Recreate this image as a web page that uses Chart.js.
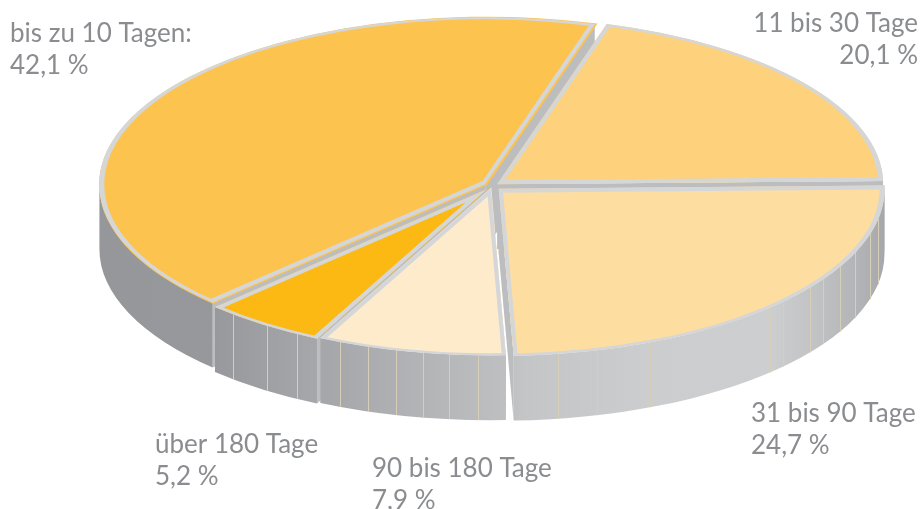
<!DOCTYPE html>
<html>
<head>
<meta charset="utf-8">
<style>
  html, body { margin: 0; padding: 0; background: #fff; overflow: hidden; }
  canvas { display: block; }
</style>
<script src="https://cdn.jsdelivr.net/npm/chart.js@4"></script>
</head>
<body>
<canvas id="chart" width="924" height="509"></canvas>
<script>
// clockwise from the 11 bis 30 slice, same order as the picture
const categories = ["11 bis 30 Tage", "31 bis 90 Tage", "90 bis 180 Tage", "über 180 Tage", "bis zu 10 Tagen:"];
const shares = [20.1, 24.7, 7.9, 5.2, 42.1];
const sliceColours = ["#fed17d", "#fedda0", "#feebcb", "#fdb913", "#fdc34f"];
const sliceOffsets = [11, 16, 6, 8, 9];

// label anchors: x, first baseline, align
const labelSpots = [
    [918, 32, "right"],
    [751, 422, "left"],
    [372, 477, "left"],
    [155, 453, "left"],
    [10, 42, "left"]
];

// x of the thin lines on the rim
const rimSeams = [233, 267, 297, 316, 340, 368, 396, 423, 449, 478, 510, 558, 597, 650, 770, 783, 810, 823, 840, 855, 870, 878];

const stretchX = 2.31;
const radiusY = 167;
const depth = 65;
const edgeColour = "#d5d6d8";
const sideColour = "#bcbdbf";

function sliceGeometry(arc) {
    // same shift the arc element uses when it has an offset
    const off = (arc.options.offset || 0) / 4;
    const mid = (arc.startAngle + arc.endAngle) / 2;
    const d = off * (2 - Math.sin(Math.min(Math.PI, arc.circumference)));
    return {
        x: arc.x + Math.cos(mid) * d * stretchX,
        y: arc.y + Math.sin(mid) * d,
        rx: arc.outerRadius * stretchX,
        ry: arc.outerRadius,
        start: arc.startAngle,
        end: arc.endAngle
    };
}

function rimGradient(ctx) {
    const g = ctx.createLinearGradient(100, 0, 890, 0);
    const stops = [[100, "#96979a"], [210, "#97989b"], [316, "#a6a7aa"], [330, "#a6a7aa"], [510, "#bfc0c2"],
        [525, "#c4c5c7"], [650, "#cccdcf"], [770, "#cdced0"], [820, "#c0c1c3"], [870, "#aeafb2"], [890, "#a3a4a7"]];
    stops.forEach((s) => g.addColorStop((s[0] - 100) / 790, s[1]));
    return g;
}

const piePerspective = {
    id: "piePerspective",
    beforeDatasetsDraw(chart) {
        const ctx = chart.ctx;
        const arcs = chart.getDatasetMeta(0).data;
        const slices = arcs.map(sliceGeometry);

        // cut faces between the slices
        slices.forEach((s) => {
            [s.start, s.end].forEach((a) => {
                const px = s.x + Math.cos(a) * s.rx;
                const py = s.y + Math.sin(a) * s.ry;
                ctx.beginPath();
                ctx.moveTo(s.x, s.y);
                ctx.lineTo(px, py);
                ctx.lineTo(px, py + depth);
                ctx.lineTo(s.x, s.y + depth);
                ctx.closePath();
                ctx.fillStyle = sideColour;
                ctx.fill();
            });
        });

        // outer rim, only the part that faces us
        const grad = rimGradient(ctx);
        slices.forEach((s) => {
            const a = Math.max(s.start, 0);
            const b = Math.min(s.end, Math.PI);
            if (b <= a) return;
            ctx.beginPath();
            ctx.ellipse(s.x, s.y, s.rx, s.ry, 0, a, b);
            ctx.ellipse(s.x, s.y + depth, s.rx, s.ry, 0, b, a, true);
            ctx.closePath();
            ctx.fillStyle = grad;
            ctx.fill();

            ctx.strokeStyle = "#d6ceb6";
            ctx.lineWidth = 1;
            rimSeams.forEach((x) => {
                const c = (x - s.x) / s.rx;
                if (Math.abs(c) >= 1) return;
                const t = Math.acos(c);
                if (t <= a + 0.004 || t >= b - 0.004) return;
                const y = s.y + Math.sin(t) * s.ry;
                ctx.beginPath();
                ctx.moveTo(x + 0.5, y);
                ctx.lineTo(x + 0.5, y + depth);
                ctx.stroke();
            });
        });

        // the pie itself is round, stretch it sideways into the ellipse
        const cx = arcs[0].x, cy = arcs[0].y;
        ctx.save();
        ctx.translate(cx, cy);
        ctx.scale(stretchX, 1);
        ctx.translate(-cx, -cy);
    },
    afterDatasetsDraw(chart) {
        const ctx = chart.ctx;
        ctx.restore();

        chart.getDatasetMeta(0).data.map(sliceGeometry).forEach((s) => {
            ctx.save();
            ctx.beginPath();
            ctx.moveTo(s.x, s.y);
            ctx.ellipse(s.x, s.y, s.rx, s.ry, 0, s.start, s.end);
            ctx.closePath();
            ctx.clip();

            ctx.strokeStyle = edgeColour;
            ctx.lineWidth = 8;
            ctx.lineJoin = "miter";
            ctx.beginPath();
            ctx.moveTo(s.x + Math.cos(s.start) * s.rx, s.y + Math.sin(s.start) * s.ry);
            ctx.lineTo(s.x, s.y);
            ctx.lineTo(s.x + Math.cos(s.end) * s.rx, s.y + Math.sin(s.end) * s.ry);
            ctx.stroke();
            ctx.restore();

            // rim edge is thin at the front, wide at the sides
            ctx.save();
            ctx.strokeStyle = edgeColour;
            ctx.translate(s.x, s.y);
            ctx.scale(stretchX, 1);
            ctx.lineWidth = 2.2;
            ctx.beginPath();
            ctx.arc(0, 0, s.ry - 1, s.start, s.end);
            ctx.stroke();
            ctx.restore();
        });
    },
    afterDraw(chart) {
        const ctx = chart.ctx;
        ctx.save();
        ctx.font = "400 26px Lato";
        ctx.fillStyle = "#8a8c8f";
        categories.forEach((name, i) => {
            const spot = labelSpots[i];
            ctx.textAlign = spot[2];
            ctx.fillText(name, spot[0], spot[1]);
            ctx.fillText(shares[i].toFixed(1).replace(".", ",") + " %", spot[0], spot[1] + 32);
        });
        ctx.restore();
    }
};

new Chart(document.getElementById("chart"), {
    type: "pie",
    data: {
        labels: categories,
        datasets: [{
            data: shares,
            backgroundColor: sliceColours,
            offset: sliceOffsets,
            borderWidth: 0,
            clip: false
        }]
    },
    options: {
        responsive: false,
        animation: false,
        rotation: 16.5,
        radius: radiusY,
        layout: { padding: { left: 60, bottom: 137 } },
        plugins: { legend: { display: false }, tooltip: { enabled: false } }
    },
    plugins: [piePerspective]
});
</script>
</body>
</html>
